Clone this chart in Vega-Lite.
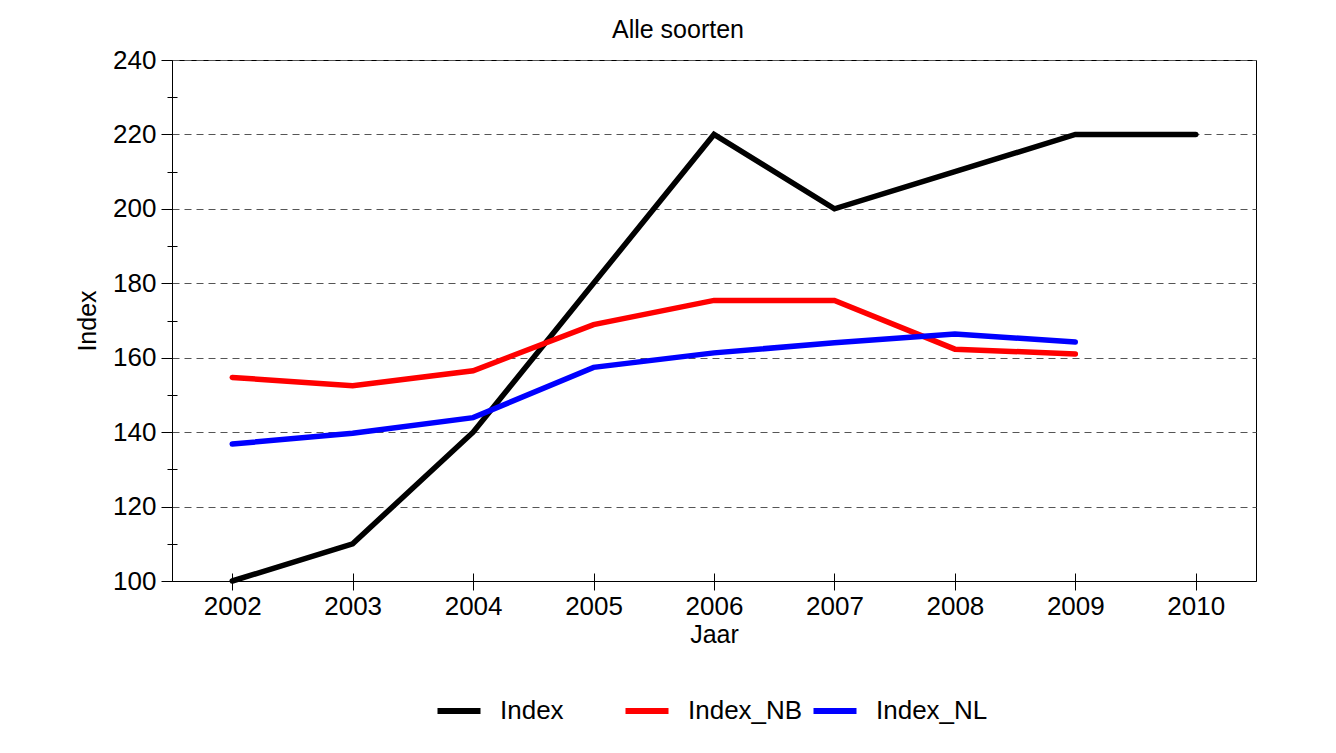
{
  "$schema": "https://vega.github.io/schema/vega-lite/v6.json",
  "width": 1084,
  "height": 521,
  "autosize": {"type": "none"},
  "padding": {"left": 172, "top": 60, "right": 80, "bottom": 172},
  "background": "white",
  "title": {
    "text": "Alle soorten",
    "anchor": "middle",
    "frame": "group",
    "dx": -36,
    "offset": 4,
    "fontSize": 25,
    "font": "Liberation Sans",
    "fontWeight": "normal",
    "color": "#000000"
  },
  "config": {
    "font": "Liberation Sans",
    "view": {"stroke": "#000000", "strokeWidth": 1},
    "axis": {"labelColor": "#000000", "titleColor": "#000000", "domainColor": "#000000", "tickColor": "#000000"}
  },
  "data": {
    "values": [
      {"Jaar": "2002", "serie": "Index", "waarde": 100},
      {"Jaar": "2003", "serie": "Index", "waarde": 110},
      {"Jaar": "2004", "serie": "Index", "waarde": 140},
      {"Jaar": "2005", "serie": "Index", "waarde": 180},
      {"Jaar": "2006", "serie": "Index", "waarde": 220},
      {"Jaar": "2007", "serie": "Index", "waarde": 200},
      {"Jaar": "2008", "serie": "Index", "waarde": 210},
      {"Jaar": "2009", "serie": "Index", "waarde": 220},
      {"Jaar": "2010", "serie": "Index", "waarde": 220},
      {"Jaar": "2002", "serie": "Index_NB", "waarde": 154.7},
      {"Jaar": "2003", "serie": "Index_NB", "waarde": 152.5},
      {"Jaar": "2004", "serie": "Index_NB", "waarde": 156.5},
      {"Jaar": "2005", "serie": "Index_NB", "waarde": 168.9},
      {"Jaar": "2006", "serie": "Index_NB", "waarde": 175.4},
      {"Jaar": "2007", "serie": "Index_NB", "waarde": 175.4},
      {"Jaar": "2008", "serie": "Index_NB", "waarde": 162.3},
      {"Jaar": "2009", "serie": "Index_NB", "waarde": 161.0},
      {"Jaar": "2002", "serie": "Index_NL", "waarde": 136.8},
      {"Jaar": "2003", "serie": "Index_NL", "waarde": 139.7},
      {"Jaar": "2004", "serie": "Index_NL", "waarde": 143.9},
      {"Jaar": "2005", "serie": "Index_NL", "waarde": 157.4},
      {"Jaar": "2006", "serie": "Index_NL", "waarde": 161.3},
      {"Jaar": "2007", "serie": "Index_NL", "waarde": 164.0},
      {"Jaar": "2008", "serie": "Index_NL", "waarde": 166.4},
      {"Jaar": "2009", "serie": "Index_NL", "waarde": 164.2}
    ]
  },
  "resolve": {"axis": {"x": "independent", "y": "independent"}},
  "layer": [
    {
      "mark": {"type": "line", "strokeWidth": 5.5, "strokeCap": "round", "strokeJoin": "miter"},
      "encoding": {
        "x": {
          "field": "Jaar", "type": "ordinal",
          "scale": {"type": "point", "padding": 0.5},
          "axis": {"orient": "bottom", "title": "Jaar", "labelAngle": 0, "labelFontSize": 26, "titleFontSize": 25, "titleFontWeight": "normal", "tickSize": 9, "labelPadding": 3, "titlePadding": 3, "grid": false}
        },
        "y": {
          "field": "waarde", "type": "quantitative",
          "scale": {"domain": [100, 240], "nice": false, "zero": false},
          "axis": {"orient": "left", "title": "Index", "values": [100, 120, 140, 160, 180, 200, 220, 240], "labelFontSize": 26, "titleFontSize": 25, "titleFontWeight": "normal", "tickSize": 11, "labelPadding": 5, "titlePadding": 12, "grid": true, "gridColor": "#555555", "gridDash": [7, 5], "gridWidth": 1}
        },
        "color": {
          "field": "serie", "type": "nominal",
          "scale": {"domain": ["Index", "Index_NB", "Index_NL"], "range": ["#000000", "#ff0000", "#0000ff"]},
          "legend": {"title": null, "orient": "none", "legendX": 262, "legendY": 626, "padding": 0, "direction": "horizontal", "symbolType": "stroke", "symbolSize": 1850, "symbolStrokeWidth": 6, "labelFontSize": 26, "labelOffset": 16, "gridAlign": "all", "columnPadding": -2, "labelColor": "#000000"}
        }
      }
    },
    {
      "mark": {"type": "point", "opacity": 0},
      "encoding": {
        "x": {
          "field": "Jaar", "type": "ordinal",
          "scale": {"type": "point", "padding": 0.5},
          "axis": {"orient": "bottom", "title": null, "labels": false, "domain": false, "grid": false, "tickSize": -8}
        },
        "y": {
          "field": "waarde", "type": "quantitative",
          "scale": {"domain": [100, 240], "nice": false, "zero": false},
          "axis": {"orient": "left", "title": null, "labels": false, "domain": false, "grid": false, "values": [110, 130, 150, 170, 190, 210, 230], "tickSize": 5}
        }
      }
    },
    {
      "mark": {"type": "point", "opacity": 0},
      "encoding": {
        "y": {
          "field": "waarde", "type": "quantitative",
          "scale": {"domain": [100, 240], "nice": false, "zero": false},
          "axis": {"orient": "left", "title": null, "labels": false, "domain": false, "grid": false, "values": [110, 130, 150, 170, 190, 210, 230], "tickSize": -5}
        }
      }
    }
  ]
}
